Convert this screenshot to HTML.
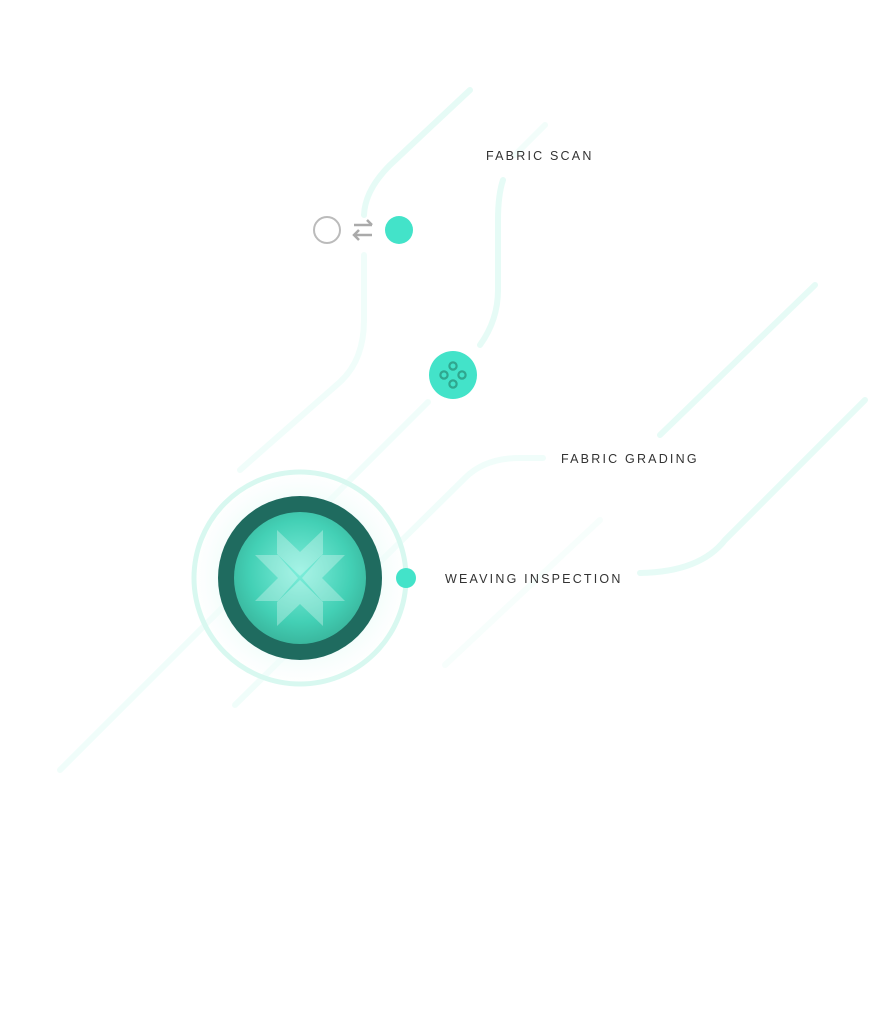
<!DOCTYPE html>
<html><head><style>
body{margin:0;width:869px;height:1014px;background:#fff;overflow:hidden;position:relative;font-family:"Liberation Sans",sans-serif}
.t{position:absolute;font-size:12.5px;letter-spacing:2.2px;color:#333}
</style></head><body>
<svg width="869" height="1014" style="position:absolute;left:0;top:0">
<defs>
<radialGradient id="g" cx="50%" cy="45%" r="55%"><stop offset="0" stop-color="#7eeedb"/><stop offset="0.7" stop-color="#43d0b5"/><stop offset="1" stop-color="#3ab79e"/></radialGradient>
<radialGradient id="halo"><stop offset="0.6" stop-color="#e8fbf7" stop-opacity="0.9"/><stop offset="1" stop-color="#fff" stop-opacity="0"/></radialGradient>
</defs>
<g fill="none" stroke="#e6fbf6" stroke-width="6" stroke-linecap="round">
<path d="M470 90 L390 165 Q365 190 364 215"/>
<path d="M364 255 L364 320 Q364 360 340 382 L240 470" stroke-opacity="0.6"/>
<path d="M545 125 L515 155" stroke-opacity="0.5"/>
<path d="M503 180 Q498 195 498 220 L498 290 Q498 320 480 345"/>
<path d="M815 285 L660 435"/>
<path d="M428 402 L60 770" stroke-opacity="0.6"/>
<path d="M865 400 L725 540 Q700 572 640 573"/>
<path d="M543 458 L520 458 Q485 458 465 478 L235 705" stroke-opacity="0.6"/>
<path d="M600 520 L445 665" stroke-opacity="0.3"/>
</g>
<circle cx="300" cy="578" r="115" fill="url(#halo)"/>
<circle cx="300" cy="578" r="106" fill="none" stroke="#d8f8f0" stroke-width="5"/>
<circle cx="300" cy="578" r="82" fill="#1f6b5f"/>
<circle cx="300" cy="578" r="66" fill="url(#g)"/>
<g fill="#fff" fill-opacity="0.3">
<polygon points="277,530 300,552 300,576 277,554"/><polygon points="323,530 300,552 300,576 323,554"/>
<polygon points="277,626 300,604 300,580 277,602"/><polygon points="323,626 300,604 300,580 323,602"/>
<polygon points="255,555 278,555 298,578 278,578"/><polygon points="255,601 278,601 298,578 278,578"/>
<polygon points="345,555 322,555 302,578 322,578"/><polygon points="345,601 322,601 302,578 322,578"/>
</g>
<circle cx="406" cy="578" r="10" fill="#43e3c9"/>
<circle cx="327" cy="230" r="13" fill="none" stroke="#bbb" stroke-width="2"/>
<circle cx="399" cy="230" r="14" fill="#43e3c9"/>
<g stroke="#aaa" stroke-width="2.5" fill="none"><path d="M354 225 H372 M367 220 L372 225 M354 235 H372 M359 230 L354 235 L359 240"/></g>
<circle cx="453" cy="375" r="24" fill="#43e3c9"/>
<g fill="none" stroke="#2fa68e" stroke-width="2.2"><circle cx="453" cy="366" r="3.6"/><circle cx="453" cy="384" r="3.6"/><circle cx="444" cy="375" r="3.6"/><circle cx="462" cy="375" r="3.6"/></g>
</svg>
<div class="t" style="left:486px;top:149px">FABRIC SCAN</div>
<div class="t" style="left:561px;top:452px">FABRIC GRADING</div>
<div class="t" style="left:445px;top:572px">WEAVING INSPECTION</div>
</body></html>
